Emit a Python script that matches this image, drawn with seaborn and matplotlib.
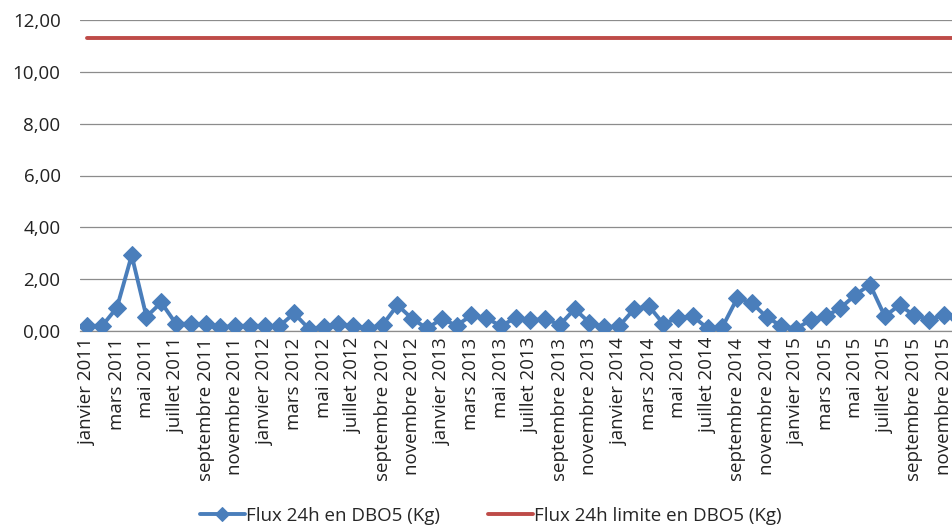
import matplotlib
matplotlib.use("Agg")
import matplotlib.pyplot as plt
import seaborn as sns
import pandas as pd
import numpy as np

# Monthly DBO5 24h flux, janvier 2011 -> décembre 2015
months_fr = ["janvier", "février", "mars", "avril", "mai", "juin", "juillet",
             "août", "septembre", "octobre", "novembre", "décembre"]
years = [2011, 2012, 2013, 2014, 2015]

flux = [0.20, 0.20, 0.90, 2.92, 0.55, 1.10, 0.28, 0.28, 0.27, 0.15, 0.19, 0.21,
        0.19, 0.19, 0.68, 0.09, 0.15, 0.28, 0.19, 0.10, 0.24, 1.00, 0.47, 0.10,
        0.47, 0.21, 0.60, 0.51, 0.19, 0.51, 0.41, 0.47, 0.24, 0.85, 0.32, 0.15,
        0.18, 0.83, 0.98, 0.28, 0.50, 0.57, 0.10, 0.15, 1.26, 1.08, 0.54, 0.19,
        0.09, 0.43, 0.57, 0.89, 1.39, 1.79, 0.57, 1.00, 0.60, 0.43, 0.60, 0.45]
limit_value = 11.3

labels = [f"{m} {y}" for y in years for m in months_fr]

df = pd.DataFrame({
    "idx": np.arange(len(flux)),
    "mois": labels,
    "flux": flux,
    "limite": limit_value,
})

sns.set_style("white")
plt.rcParams["font.family"] = ["Open Sans", "DejaVu Sans"]

blue = "#4A7EBB"
red = "#BE4B48"
fs = 13.5

fig = plt.figure(figsize=(9.53, 5.30), dpi=100)
ax = fig.add_axes([80 / 953, 1 - 331 / 530, 886 / 953, 311 / 530])

sns.lineplot(data=df, x="idx", y="flux", ax=ax, color=blue, lw=2.8,
             marker="D", markersize=9.5, markeredgecolor=blue,
             label="Flux 24h en DBO5 (Kg)", zorder=4)
sns.lineplot(data=df, x="idx", y="limite", ax=ax, color=red, lw=2.8,
             label="Flux 24h limite en DBO5 (Kg)", zorder=3)

ax.set_xlim(-0.5, len(flux) - 0.5)
ax.set_ylim(0, 12)
ax.set_yticks(np.arange(0, 12.01, 2))
ax.set_yticklabels([f"{v:.2f}".replace(".", ",") for v in np.arange(0, 12.01, 2)],
                   fontsize=fs, color="#222222")
ax.set_xticks(df["idx"][::2])
ax.set_xticklabels(df["mois"][::2], rotation=90, fontsize=fs, color="#222222")
ax.tick_params(axis="both", length=0)
ax.tick_params(axis="x", pad=5)
ax.tick_params(axis="y", pad=14)
ax.set_xlabel("")
ax.set_ylabel("")

ax.grid(axis="y", color="#8C8C8C", lw=0.9)
ax.set_axisbelow(True)
for s in ["top", "right", "left"]:
    ax.spines[s].set_visible(False)
ax.spines["bottom"].set_color("#8C8C8C")
ax.spines["bottom"].set_linewidth(0.9)

handles, lbls = ax.get_legend_handles_labels()
ax.get_legend().remove()
fig.legend(handles, lbls, loc="center", bbox_to_anchor=(0.515, 0.027), ncol=2,
           frameon=False, fontsize=fs, handlelength=2.4, columnspacing=2.6,
           handletextpad=0.05, markerscale=0.75)

fig.savefig("out.png", dpi=100)
